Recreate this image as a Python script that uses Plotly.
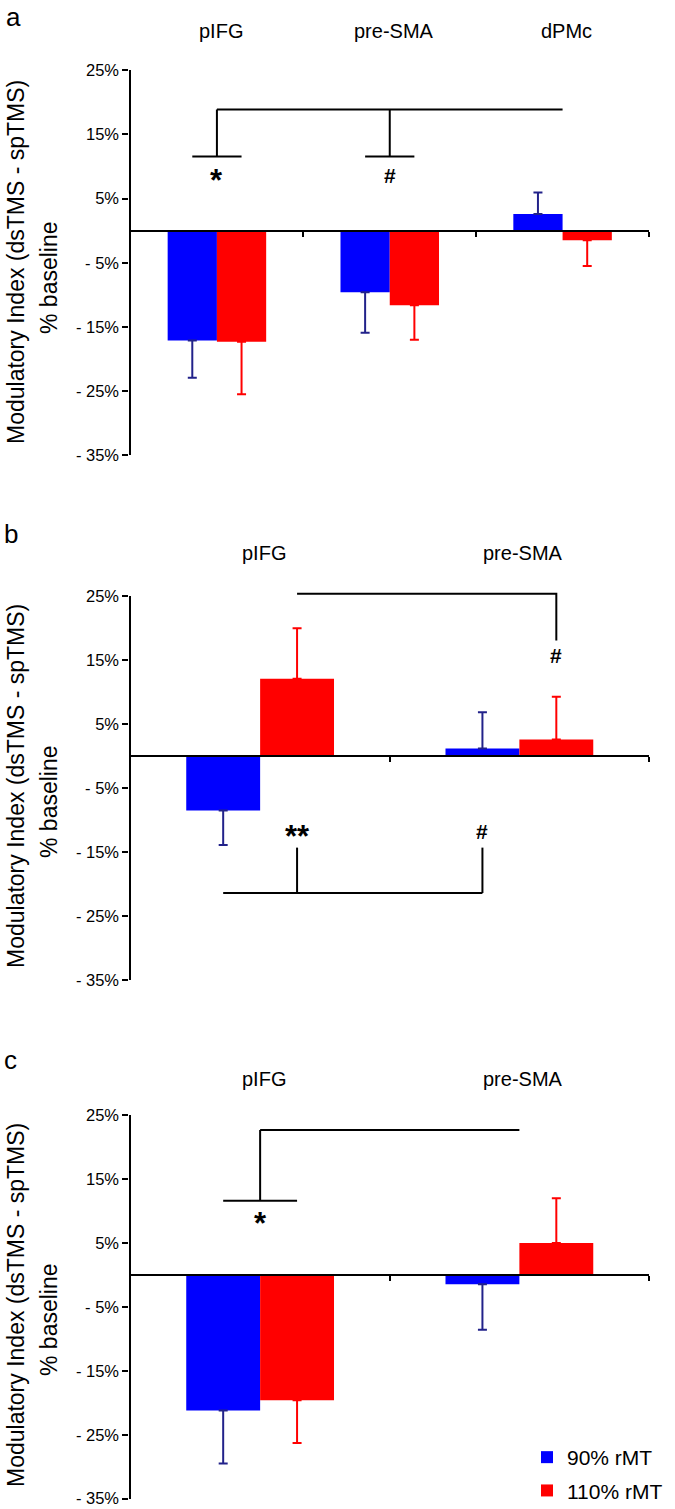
import plotly.graph_objects as go

W, H = 675, 1509

# ---------------- data ----------------
series_names = ["90% rMT", "110% rMT"]
series_colors = ["#0000ff", "#ff0000"]
error_colors = ["#22228a", "#ff0000"]

cats_a = ["pIFG", "pre-SMA", "dPMc"]
rmt90_a = [-17.1, -9.6, 2.6]
rmt90_a_err = [5.8, 6.3, 3.35]
rmt110_a = [-17.3, -11.6, -1.5]
rmt110_a_err = [8.2, 5.4, 4.0]

cats_b = ["pIFG", "pre-SMA"]
rmt90_b = [-8.5, 1.2]
rmt90_b_err = [5.4, 5.65]
rmt110_b = [12.1, 2.6]
rmt110_b_err = [7.9, 6.7]

cats_c = ["pIFG", "pre-SMA"]
rmt90_c = [-21.2, -1.45]
rmt90_c_err = [8.3, 7.15]
rmt110_c = [-19.6, 5.0]
rmt110_c_err = [6.7, 7.0]

tick_vals = [-35, -25, -15, -5, 5, 15, 25]
tick_text = ["- 35%", "- 25%", "- 15%", "- 5%", "5%", "15%", "25%"]
panel_letters = ["a", "b", "c"]
y_title_1 = "Modulatory Index (dsTMS - spTMS)"
y_title_2 = "% baseline"

# significance bracket levels (% baseline)
sig_a_top, sig_a_low, sig_a_text_y = 18.9, 11.55, 8.6
sig_a_marks = ["*", "#"]
sig_b_top, sig_b_top_end, sig_b_top_text_y = 25.4, 18.1, 15.7
sig_b_bot, sig_b_bot_end, sig_b_bot_text_y = -21.4, -14.3, -11.8
sig_b_marks_top = ["#"]
sig_b_marks_bot = ["**", "#"]
sig_c_top, sig_c_low, sig_c_text_y = 22.65, 11.6, 8.8
sig_c_marks = ["*"]

# ---------------- layout helpers ----------------
REG = "Liberation Sans, Arial, sans-serif"

def fx(px):
    return px / W

def fy(py):
    return 1 - py / H

BARGAP = 0.43
OFF = (1 - BARGAP) / 4.0  # offset of each bar centre from category centre
YMIN, YMAX = -35, 25
EXT = 4  # extra data units above the top for the (hidden) bracket axes

x_dom = [fx(130.5), fx(649)]
panels = [
    dict(cats=cats_a, s=[(rmt90_a, rmt90_a_err), (rmt110_a, rmt110_a_err)],
         ytop=70.3, ybot=455.3, cat_y=31, letter=(13, 0), title_y=(262, 278)),
    dict(cats=cats_b, s=[(rmt90_b, rmt90_b_err), (rmt110_b, rmt110_b_err)],
         ytop=596.3, ybot=980, cat_y=553, letter=(11, 517), title_y=(786, 802)),
    dict(cats=cats_c, s=[(rmt90_c, rmt90_c_err), (rmt110_c, rmt110_c_err)],
         ytop=1115, ybot=1498.7, cat_y=1079, letter=(10, 1043), title_y=(1305, 1320)),
]

fig = go.Figure()
annotations = []
layout_axes = {}

for p_i, p in enumerate(panels):
    n = len(p["cats"])
    sfx = "" if p_i == 0 else str(p_i + 1)
    bsfx = str(p_i + 4)
    xref, yref = "x" + sfx, "y" + sfx
    xs = list(range(n))
    for s_i, (vals, errs) in enumerate(p["s"]):
        plus = [e if v >= 0 else 0 for v, e in zip(vals, errs)]
        minus = [e if v < 0 else 0 for v, e in zip(vals, errs)]
        fig.add_trace(go.Bar(
            x=xs, y=vals, name=series_names[s_i],
            marker=dict(color=series_colors[s_i], line=dict(width=0)),
            error_y=dict(type="data", symmetric=False, array=plus, arrayminus=minus,
                         color=error_colors[s_i], thickness=2, width=4.5),
            xaxis=xref, yaxis=yref,
            showlegend=(p_i == 2), legendgroup=series_names[s_i],
            hoverinfo="skip",
        ))
    ydom = [fy(p["ybot"]), fy(p["ytop"])]
    unit = (ydom[1] - ydom[0]) / (YMAX - YMIN)
    zero_pos = ydom[0] + (0 - YMIN) * unit
    layout_axes["xaxis" + sfx] = dict(
        domain=x_dom, range=[-0.5, n - 0.5], anchor="free", position=zero_pos,
        showline=True, linecolor="black", linewidth=2.2,
        ticks="outside", ticklen=5, tickwidth=2, tickcolor="black",
        tickvals=[i + 0.5 for i in range(n)], showticklabels=False,
        showgrid=False, zeroline=False, fixedrange=True,
    )
    layout_axes["yaxis" + sfx] = dict(
        domain=ydom, range=[YMIN, YMAX], anchor=xref,
        showline=True, linecolor="black", linewidth=2.4,
        ticks="outside", ticklen=6, tickwidth=2, tickcolor="black",
        tickvals=tick_vals, ticktext=tick_text,
        tickfont=dict(family=REG, size=16.5, color="black"),
        showgrid=False, zeroline=False, fixedrange=True,
    )
    # hidden axes (same scale) used to draw significance brackets without clipping
    layout_axes["xaxis" + bsfx] = dict(
        domain=x_dom, range=[-0.5, n - 0.5], anchor="y" + bsfx, visible=False,
        fixedrange=True,
    )
    layout_axes["yaxis" + bsfx] = dict(
        domain=[ydom[0], min(1.0, ydom[1] + EXT * unit)],
        range=[YMIN, YMAX + EXT], anchor="x" + bsfx, visible=False,
        fixedrange=True,
    )
    # category labels above plot
    for i, c in enumerate(p["cats"]):
        annotations.append(dict(text=c, x=i, xref=xref, y=fy(p["cat_y"]), yref="paper",
                                showarrow=False, xanchor="center", yanchor="middle", xshift=4,
                                font=dict(family=REG, size=20, color="black")))
    # panel letter
    annotations.append(dict(text=panel_letters[p_i], x=fx(p["letter"][0]), y=fy(p["letter"][1]),
                            xref="paper", yref="paper", showarrow=False,
                            xanchor="center", yanchor="top",
                            font=dict(family=REG, size=26, color="black")))
    # y-axis title (two lines)
    annotations.append(dict(text=y_title_1, x=fx(16), y=fy(p["title_y"][0]),
                            xref="paper", yref="paper", showarrow=False, textangle=-90,
                            xanchor="center", yanchor="middle",
                            font=dict(family=REG, size=23, color="black")))
    annotations.append(dict(text=y_title_2, x=fx(49), y=fy(p["title_y"][1]),
                            xref="paper", yref="paper", showarrow=False, textangle=-90,
                            xanchor="center", yanchor="middle",
                            font=dict(family=REG, size=23, color="black")))

line_style = dict(color="black", width=2)

def add_line(xs, ys, panel_idx):
    bsfx = str(panel_idx + 4)
    fig.add_trace(go.Scatter(x=xs, y=ys, mode="lines", line=line_style,
                             xaxis="x" + bsfx, yaxis="y" + bsfx, showlegend=False,
                             hoverinfo="skip"))

def add_mark(text, x, y, panel_idx, size, yshift=0):
    sfx = "" if panel_idx == 0 else str(panel_idx + 1)
    annotations.append(dict(text=text, x=x, y=y, xref="x" + sfx, yref="y" + sfx,
                            showarrow=False, xanchor="center", yanchor="middle",
                            yshift=yshift,
                            font=dict(family=REG, size=size, color="black")))

def add_sig(mark, x, y, pidx):
    if "*" in mark:
        add_mark("<b>" + mark + "</b>", x, y, pidx, 31, -5)
    else:
        add_mark("<b>" + mark + "</b>", x, y, pidx, 21, 0)

# panel a brackets
add_line([0, 2], [sig_a_top, sig_a_top], 0)
for i, m in enumerate(sig_a_marks):
    add_line([i, i], [sig_a_top, sig_a_low], 0)
    add_line([i - OFF, i + OFF], [sig_a_low, sig_a_low], 0)
    add_sig(m, i, sig_a_text_y, 0)

# panel b brackets
add_line([OFF, 1 + OFF, 1 + OFF], [sig_b_top, sig_b_top, sig_b_top_end], 1)
add_sig(sig_b_marks_top[0], 1 + OFF, sig_b_top_text_y, 1)
add_line([-OFF, 1 - OFF], [sig_b_bot, sig_b_bot], 1)
add_line([OFF, OFF], [sig_b_bot, sig_b_bot_end], 1)
add_line([1 - OFF, 1 - OFF], [sig_b_bot, sig_b_bot_end], 1)
add_sig(sig_b_marks_bot[0], OFF, sig_b_bot_text_y, 1)
add_sig(sig_b_marks_bot[1], 1 - OFF, sig_b_bot_text_y, 1)

# panel c brackets
add_line([0, 1], [sig_c_top, sig_c_top], 2)
add_line([0, 0], [sig_c_top, sig_c_low], 2)
add_line([-OFF, OFF], [sig_c_low, sig_c_low], 2)
add_sig(sig_c_marks[0], 0, sig_c_text_y, 2)

fig.update_layout(
    width=W, height=H,
    margin=dict(l=0, r=0, t=0, b=0, autoexpand=False),
    paper_bgcolor="white", plot_bgcolor="rgba(0,0,0,0)",
    barmode="group", bargap=BARGAP, bargroupgap=0,
    showlegend=True,
    legend=dict(x=fx(527), y=fy(1437), xanchor="left", yanchor="top",
                font=dict(family=REG, size=21, color="black"),
                bgcolor="rgba(0,0,0,0)", borderwidth=0, tracegroupgap=3,
                itemclick=False, itemdoubleclick=False),
    annotations=annotations,
    **layout_axes,
)

fig.write_html("out.html", config={"displayModeBar": False},
               post_script="document.body.style.margin='0';document.body.style.overflow='hidden';")
